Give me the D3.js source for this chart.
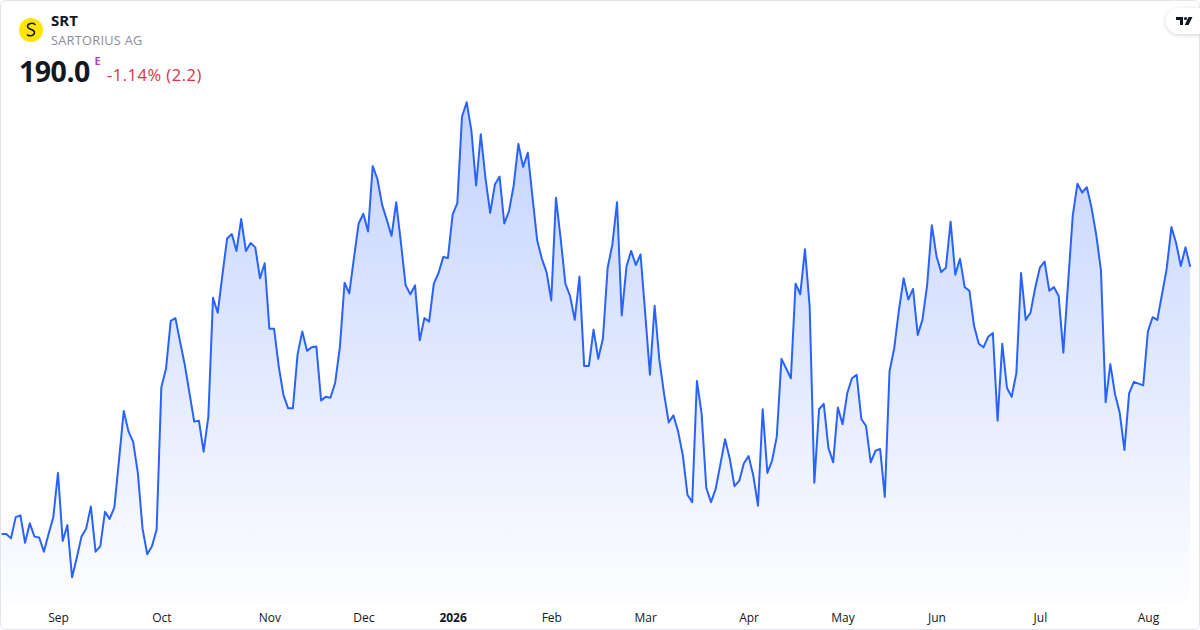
<!DOCTYPE html>
<html>
<head>
<meta charset="utf-8">
<script src="https://cdn.jsdelivr.net/npm/d3@7/dist/d3.min.js"></script>
<style>
  html, body { margin: 0; padding: 0; background: #ffffff; }
  svg { display: block; font-family: "Open Sans", "Noto Sans", sans-serif; }
</style>
</head>
<body>
<svg id="chart" width="1200" height="630"></svg>
<script>
// ---- data ----
const ticker = "SRT";
const company = "SARTORIUS AG";
const lastPrice = "190.0";
const changeText = "-1.14% (2.2)";

// daily closes (trading days, Aug 2025 – Aug 2026)
const prices = [
  159.8,159.8,159.3,161.7,161.9,158.8,161.0,159.5,159.4,157.8,
  159.8,161.7,166.7,159.0,160.8,154.9,157.1,159.5,160.4,162.9,
  157.8,158.4,162.3,161.5,162.8,168.2,173.7,171.4,170.2,166.7,
  160.4,157.5,158.4,160.3,176.4,178.5,183.9,184.2,181.5,178.9,
  175.7,172.5,172.6,169.1,173.0,186.5,184.8,189.1,193.2,193.7,
  191.8,195.4,191.8,192.7,192.2,188.7,190.4,183.0,183.0,178.7,
  175.5,174.0,174.0,180.1,182.7,180.5,180.9,181.0,174.9,175.3,
  175.2,176.9,180.9,188.2,187.0,191.0,194.9,196.0,194.0,201.4,
  199.9,197.0,195.3,193.5,197.3,192.7,187.9,186.9,187.9,181.7,
  184.2,183.8,188.1,189.3,191.1,191.0,195.9,197.2,207.0,208.6,
  205.4,199.2,205.0,200.0,196.1,199.3,200.2,194.9,196.3,199.2,
  203.9,201.3,202.9,197.9,193.0,190.9,189.4,186.2,197.8,193.2,
  188.1,186.7,184.0,188.9,178.8,178.8,182.9,179.6,181.9,189.9,
  192.5,197.3,184.5,190.0,191.8,190.2,191.4,184.7,177.8,185.6,
  179.5,175.7,172.4,173.2,171.4,168.7,164.2,163.4,177.1,173.4,
  165.0,163.4,164.9,167.7,170.5,168.3,165.2,165.8,167.8,168.6,
  166.4,163.0,173.9,166.7,168.1,170.8,179.6,178.5,177.4,188.1,
  186.9,192.0,185.5,165.6,173.9,174.5,169.5,167.9,174.1,172.2,
  175.7,177.4,177.8,172.8,172.0,167.9,169.2,169.4,164.0,178.2,
  180.8,185.1,188.7,186.3,187.5,182.3,184.0,187.9,194.7,191.2,
  189.4,189.9,195.1,189.1,190.9,187.7,187.3,183.3,181.3,180.9,
  182.1,182.5,172.6,181.3,176.3,175.3,178.0,189.3,184.0,184.8,
  187.6,189.9,190.6,187.3,187.7,186.7,180.3,188.1,195.8,199.4,
  198.4,199.0,196.7,193.6,189.6,174.7,179.0,175.6,173.5,169.3,
  175.7,177.0,176.8,176.6,182.7,184.3,184.0,186.9,189.8,194.5,
  192.7,190.1,192.2,190.0
];

// month labels and the trading-day index where each month starts
const tickLabels = ["Sep","Oct","Nov","Dec","2026","Feb","Mar","Apr","May","Jun","Jul","Aug"];
const tickIndex  = [12, 34, 57, 77, 96, 117, 137, 159, 179, 199, 221, 244];
const tickBold   = [false,false,false,false,true,false,false,false,false,false,false,false];

// ---- drawing ----
const W = 1200, H = 630;
const svg = d3.select("#chart");

const lineColor = "#2962FF";

const x = d3.scaleLinear()
  .domain([0, prices.length - 1])
  .range([1.6, 1190.2]);

const y = d3.scaleLinear()
  .domain(d3.extent(prices))
  .range([577.3, 102.3]);

const areaBottom = 603;

// gradient for area
const defs = svg.append("defs");
const grad = defs.append("linearGradient")
  .attr("id", "areaGrad")
  .attr("gradientUnits", "userSpaceOnUse")
  .attr("x1", 0).attr("y1", 102).attr("x2", 0).attr("y2", areaBottom);
grad.append("stop").attr("offset", "0%").attr("stop-color", lineColor).attr("stop-opacity", 0.28);
grad.append("stop").attr("offset", "100%").attr("stop-color", lineColor).attr("stop-opacity", 0.01);

const shadow = defs.append("filter").attr("id", "shadow")
  .attr("x", "-50%").attr("y", "-50%").attr("width", "200%").attr("height", "200%");
shadow.append("feDropShadow").attr("dx", 0).attr("dy", 1).attr("stdDeviation", 2)
  .attr("flood-color", "#000").attr("flood-opacity", 0.18);

const clip = defs.append("clipPath").attr("id", "frameClip");
clip.append("rect").attr("x", 0.5).attr("y", 0.5).attr("width", W - 1).attr("height", H - 1).attr("rx", 6);

const g = svg.append("g").attr("clip-path", "url(#frameClip)");

// area
g.append("path")
  .datum(prices)
  .attr("fill", "url(#areaGrad)")
  .attr("d", d3.area()
    .x((d, i) => x(i))
    .y0(areaBottom)
    .y1(d => y(d)));

// line
g.append("path")
  .datum(prices)
  .attr("fill", "none")
  .attr("stroke", lineColor)
  .attr("stroke-width", 2)
  .attr("stroke-linejoin", "round")
  .attr("d", d3.line()
    .x((d, i) => x(i))
    .y(d => y(d)));

// x axis (month labels)
const xAxis = d3.axisBottom(x)
  .tickValues(tickIndex)
  .tickSize(0)
  .tickPadding(0)
  .tickFormat((d, i) => tickLabels[i]);

const axisG = svg.append("g")
  .attr("transform", `translate(0, 613)`)
  .call(xAxis);
axisG.select(".domain").remove();
axisG.selectAll("text")
  .attr("font-family", "\"Open Sans\", \"Noto Sans\", sans-serif")
  .attr("font-size", 12)
  .attr("fill", "#131722")
  .attr("font-weight", (d, i) => tickBold[i] ? 700 : 400);

// frame
svg.append("rect")
  .attr("x", 0.5).attr("y", 0.5)
  .attr("width", W - 1).attr("height", H - 1)
  .attr("rx", 6)
  .attr("fill", "none")
  .attr("stroke", "#e0e3eb")
  .attr("stroke-width", 1);

// header: logo
svg.append("circle").attr("cx", 31).attr("cy", 30).attr("r", 12).attr("fill", "#FFE500");
svg.append("path")
  .attr("d", "M35 24.5 C33 22.5 27.5 23 27.5 26.5 C27.5 29.5 34.5 29 34.5 32.5 C34.5 35.5 30 36.5 27.5 35")
  .attr("fill", "none").attr("stroke", "#131722").attr("stroke-width", 1.5).attr("stroke-linecap", "round");

svg.append("text")
  .attr("x", 51).attr("y", 26)
  .attr("font-size", 15).attr("font-weight", 700).attr("fill", "#131722")
  .text(ticker);

svg.append("text")
  .attr("x", 51).attr("y", 45)
  .attr("font-size", 12.8).attr("fill", "#8a8d96")
  .attr("letter-spacing", 0.25)
  .text(company);

svg.append("text")
  .attr("x", 19).attr("y", 82)
  .attr("font-size", 28.5).attr("font-weight", 700).attr("fill", "#131722")
  .attr("letter-spacing", -0.5)
  .text(lastPrice);

svg.append("text")
  .attr("x", 94.5).attr("y", 65)
  .attr("font-size", 11).attr("font-weight", 700).attr("fill", "#ab47bc")
  .text("E");

svg.append("text")
  .attr("x", 107).attr("y", 81)
  .attr("font-size", 16.5).attr("fill", "#e0303e")
  .attr("letter-spacing", 0.5)
  .text(changeText);

// TradingView badge
const badge = svg.append("g");
badge.append("rect")
  .attr("x", 1166).attr("y", 8).attr("width", 44).attr("height", 26).attr("rx", 13)
  .attr("fill", "#ffffff").attr("filter", "url(#shadow)");
badge.append("path")
  .attr("d", "M1176 17 H1183 V25 H1180 V20 H1176 Z")
  .attr("fill", "#131722");
badge.append("circle").attr("cx", 1185.5).attr("cy", 18.5).attr("r", 1.6).attr("fill", "#131722");
badge.append("path")
  .attr("d", "M1188.5 17 H1192.5 L1188.5 25 H1184.8 Z")
  .attr("fill", "#131722");
// cover right frame
svg.append("line")
  .attr("x1", 1199.5).attr("y1", 40).attr("x2", 1199.5).attr("y2", 624)
  .attr("stroke", "#e0e3eb");
</script>
</body>
</html>
